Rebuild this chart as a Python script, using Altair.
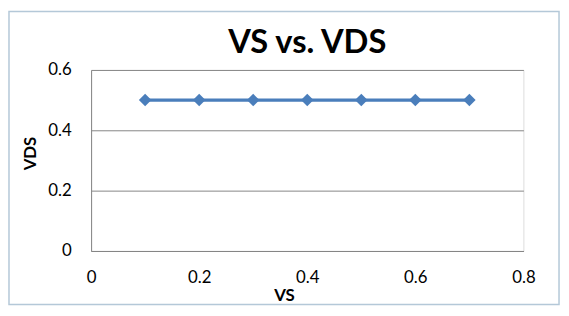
import altair as alt
import pandas as pd

vs = [0.1, 0.2, 0.3, 0.4, 0.5, 0.6, 0.7]
vds = [0.5, 0.5, 0.5, 0.5, 0.5, 0.5, 0.5]
x_ticks = [0, 0.2, 0.4, 0.6, 0.8]
y_ticks = [0, 0.2, 0.4, 0.6]

df = pd.DataFrame({"VS": vs, "VDS": vds})
FONT = "Lato"

base = alt.Chart(df)

line = base.mark_line(color="#4a7ebb", strokeWidth=3.5).encode(
    x=alt.X("VS:Q", scale=alt.Scale(domain=[0, 0.8], nice=False),
            axis=alt.Axis(values=x_ticks, title="VS", grid=False, ticks=False,
                          domainColor="#868686", labelPadding=19, labelFlush=False,
                          labelFontSize=17, labelFont=FONT, labelColor="#000000",
                          titleFontSize=17, titleFont=FONT, titleFontWeight="bold",
                          titleColor="#000000", titleX=195, titleY=37,
                          titleBaseline="top", format="~g", zindex=0)),
    y=alt.Y("VDS:Q", scale=alt.Scale(domain=[0, 0.6], nice=False),
            axis=alt.Axis(values=y_ticks, title="VDS", grid=True, gridColor="#868686",
                          ticks=False, domainColor="#868686", labelPadding=20,
                          labelFlush=False,
                          labelFontSize=17, labelFont=FONT, labelColor="#000000",
                          titleFontSize=17, titleFont=FONT, titleFontWeight="bold",
                          titleColor="#000000", titleX=-52, titleY=84,
                          format="~g", zindex=0)),
)

points = base.mark_point(shape="diamond", filled=True, color="#4a7ebb", size=160,
                         opacity=1).encode(x="VS:Q", y="VDS:Q")

frame = alt.Chart(pd.DataFrame({"a": [0]})).mark_rect(
    fillOpacity=0, stroke="#b4c8d8", strokeWidth=1.5
).encode(x=alt.value(-83), x2=alt.value(473), y=alt.value(-59), y2=alt.value(237))

chart = alt.layer(frame, line, points).properties(
    width=437, height=183,
    title=alt.TitleParams("VS vs. VDS", fontSize=33, font=FONT, fontWeight="bold",
                          color="#000000", anchor="middle", offset=0, dy=50),
    padding={"left": 84, "top": 61, "right": 38, "bottom": 54},
    autosize=alt.AutoSizeParams(type="none"),
).configure_view(stroke=None).configure(background="white")

chart.save("out.html", embed_options={"renderer": "svg", "actions": False})
